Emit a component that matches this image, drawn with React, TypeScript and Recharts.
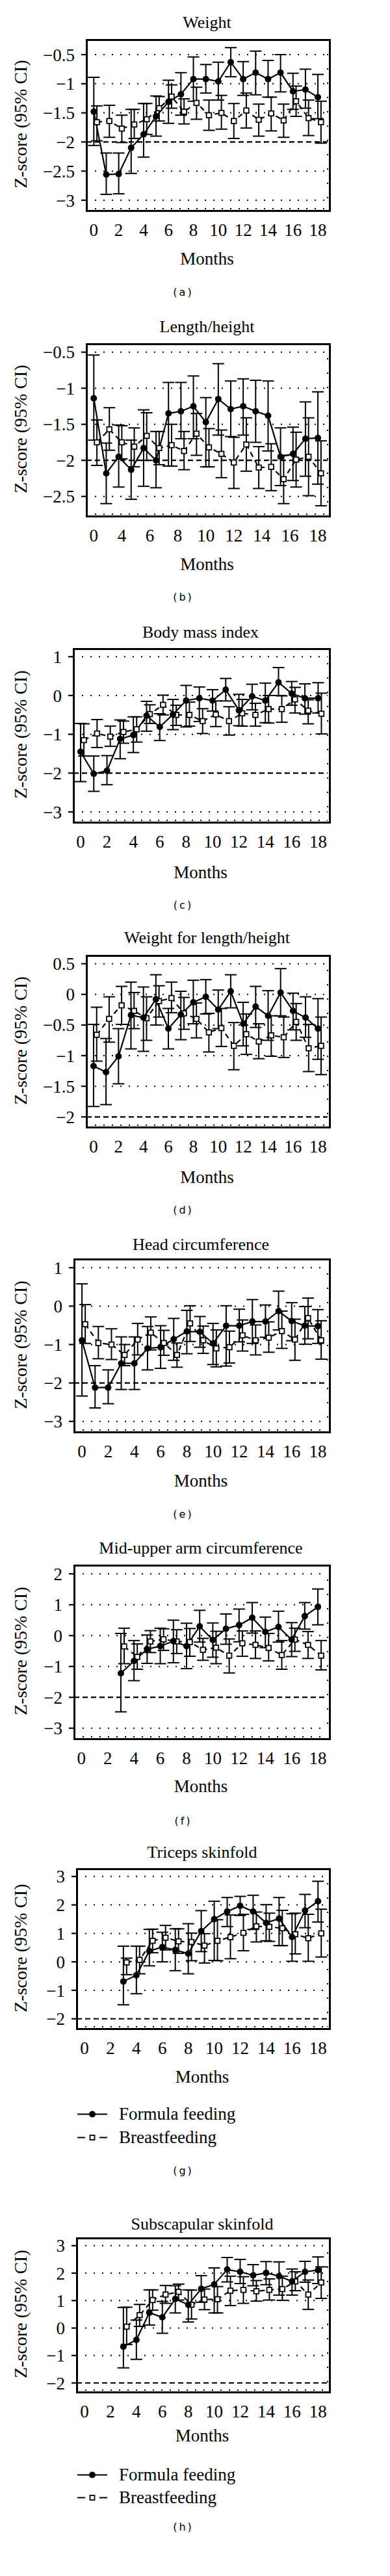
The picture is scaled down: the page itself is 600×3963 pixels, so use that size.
import React from "react"
import { LineChart, Line, XAxis, YAxis, CartesianGrid, ReferenceLine, ErrorBar } from "recharts"

const SERIF = '"Liberation Serif", "Times New Roman", serif'
const SANS = '"DejaVu Sans", "Liberation Sans", sans-serif'
const PLOT_RIGHT = 504
const BF_SHIFT = 0.25

// x values
const months = [0, 1, 2, 3, 4, 5, 6, 7, 8, 9, 10, 11, 12, 13, 14, 15, 16, 17, 18]
const monthsFrom3 = [3, 4, 5, 6, 7, 8, 9, 10, 11, 12, 13, 14, 15, 16, 17, 18]
const monthTicks = [0, 2, 4, 6, 8, 10, 12, 14, 16, 18]
const monthTickLabels = ["0", "2", "4", "6", "8", "10", "12", "14", "16", "18"]
// panel (b) prints nine labels spread evenly over the axis
const lengthLabelPositions = [0, 2.25, 4.5, 6.75, 9, 11.25, 13.5, 15.75, 18]
const lengthTickLabels = ["0", "4", "6", "8", "10", "12", "14", "16", "18"]

// (a) Weight
const weightFormula = [-1.48, -2.56, -2.55, -2.1, -1.87, -1.56, -1.31, -1.18, -0.92, -0.92, -0.96, -0.63, -0.92, -0.81, -0.92, -0.81, -1.13, -1.1, -1.23]
const weightFormulaLow = [-2.06, -2.9, -2.89, -2.54, -2.26, -1.9, -1.68, -1.54, -1.3, -1.16, -1.28, -0.88, -1.2, -1.19, -1.23, -1.14, -1.44, -1.42, -1.6]
const weightFormulaHigh = [-0.89, -2.19, -2.19, -1.44, -1.34, -1.21, -0.94, -0.81, -0.54, -0.67, -0.63, -0.38, -0.62, -0.44, -0.6, -0.5, -0.82, -0.75, -0.84]
const weightBreast = [-1.66, -1.64, -1.77, -1.7, -1.61, -1.42, -1.22, -1.48, -1.33, -1.54, -1.5, -1.64, -1.46, -1.62, -1.51, -1.63, -1.3, -1.59, -1.66]
const weightBreastLow = [-1.98, -1.92, -2.01, -1.94, -1.87, -1.64, -1.42, -1.69, -1.61, -1.8, -1.78, -1.94, -1.76, -1.9, -1.81, -1.92, -1.56, -1.89, -2.02]
const weightBreastHigh = [-1.38, -1.37, -1.54, -1.44, -1.34, -1.22, -1.02, -1.26, -1.06, -1.28, -1.2, -1.34, -1.16, -1.35, -1.23, -1.35, -1.04, -1.28, -1.3]

// (b) Length/height
const lengthFormula = [-1.14, -2.18, -1.95, -2.13, -1.83, -2.0, -1.35, -1.32, -1.25, -1.47, -1.15, -1.29, -1.25, -1.32, -1.38, -1.95, -1.91, -1.7, -1.69]
const lengthFormulaLow = [-1.72, -2.6, -2.37, -2.54, -2.36, -2.38, -2.08, -1.7, -1.7, -2.09, -1.65, -1.67, -1.65, -1.75, -1.87, -2.35, -2.28, -2.22, -2.33]
const lengthFormulaHigh = [-0.54, -1.76, -1.51, -1.72, -1.3, -1.6, -0.92, -0.92, -0.83, -1.13, -0.66, -0.9, -0.87, -0.89, -0.9, -1.55, -1.54, -1.19, -1.05]
const lengthBreast = [-1.75, -1.57, -1.75, -1.81, -1.66, -1.83, -1.79, -1.87, -1.63, -1.82, -1.91, -2.03, -1.78, -2.1, -2.09, -2.26, -1.99, -1.95, -2.18]
const lengthBreastLow = [-2.07, -1.86, -1.98, -2.09, -2.0, -2.06, -2.08, -2.13, -1.93, -2.09, -2.24, -2.39, -2.15, -2.39, -2.42, -2.6, -2.37, -2.49, -2.63]
const lengthBreastHigh = [-1.44, -1.27, -1.52, -1.55, -1.34, -1.6, -1.5, -1.6, -1.35, -1.56, -1.58, -1.68, -1.41, -1.81, -1.77, -1.93, -1.61, -1.41, -1.73]

// (c) Body mass index
const bmiFormula = [-1.45, -2.02, -1.94, -1.12, -1.02, -0.52, -0.81, -0.49, -0.13, -0.07, -0.13, 0.15, -0.38, -0.02, -0.13, 0.34, 0.05, -0.07, -0.07]
const bmiFormulaLow = [-2.22, -2.47, -2.3, -1.63, -1.47, -0.92, -1.16, -0.88, -0.81, -0.67, -0.4, -0.14, -0.78, -0.37, -0.7, 0.0, -0.25, -0.48, -0.45]
const bmiFormulaHigh = [-0.72, -1.56, -1.55, -0.63, -0.55, -0.15, -0.47, -0.1, 0.26, 0.22, 0.15, 0.44, 0.03, 0.29, 0.32, 0.72, 0.36, 0.3, 0.33]
const bmiBreast = [-1.15, -0.98, -1.06, -0.94, -0.87, -0.48, -0.24, -0.5, -0.5, -0.66, -0.49, -0.66, -0.46, -0.5, -0.35, -0.35, -0.1, -0.39, -0.47]
const bmiBreastLow = [-1.56, -1.34, -1.31, -1.23, -1.2, -0.72, -0.5, -0.77, -0.79, -0.98, -0.8, -1.02, -0.79, -0.79, -0.71, -0.69, -0.45, -0.73, -0.99]
const bmiBreastHigh = [-0.73, -0.62, -0.79, -0.66, -0.55, -0.24, 0.01, -0.25, -0.17, -0.34, -0.14, -0.29, -0.1, -0.2, 0.0, -0.01, 0.21, -0.11, 0.06]

// (d) Weight for length/height
const wflFormula = [-1.17, -1.27, -1.01, -0.34, -0.38, -0.08, -0.56, -0.33, -0.13, -0.04, -0.25, 0.05, -0.48, -0.2, -0.35, 0.03, -0.27, -0.38, -0.56]
const wflFormulaLow = [-1.83, -1.8, -1.46, -0.89, -0.93, -0.5, -0.89, -0.74, -0.48, -0.32, -0.56, -0.22, -0.84, -0.54, -0.75, -0.35, -0.58, -0.7, -1.06]
const wflFormulaHigh = [-0.49, -0.72, -0.56, 0.2, 0.12, 0.32, -0.23, 0.05, 0.23, 0.24, 0.07, 0.32, -0.13, 0.13, 0.06, 0.42, 0.02, -0.04, -0.07]
const wflBreast = [-0.66, -0.4, -0.18, -0.27, -0.39, -0.11, -0.06, -0.31, -0.4, -0.62, -0.55, -0.84, -0.65, -0.77, -0.67, -0.7, -0.45, -0.88, -0.84]
const wflBreastLow = [-1.09, -0.78, -0.49, -0.56, -0.75, -0.37, -0.3, -0.57, -0.71, -0.94, -0.85, -1.23, -0.98, -1.05, -1.01, -1.03, -0.75, -1.26, -1.31]
const wflBreastHigh = [-0.21, -0.04, 0.13, 0.03, -0.04, 0.14, 0.2, -0.05, -0.14, -0.31, -0.23, -0.46, -0.32, -0.48, -0.35, -0.37, -0.15, -0.49, -0.37]

// (e) Head circumference
const headFormula = [-0.89, -2.12, -2.12, -1.49, -1.49, -1.1, -1.07, -0.86, -0.66, -0.67, -0.97, -0.51, -0.51, -0.4, -0.4, -0.13, -0.39, -0.51, -0.52]
const headFormulaLow = [-2.34, -2.65, -2.54, -2.17, -2.17, -1.66, -1.62, -1.41, -1.24, -1.07, -1.52, -1.56, -0.93, -0.97, -0.81, -0.62, -0.9, -0.99, -0.97]
const headFormulaHigh = [0.58, -1.55, -1.66, -0.8, -0.8, -0.53, -0.51, -0.32, -0.11, -0.27, -0.45, 0.01, -0.08, 0.17, 0.03, 0.39, 0.09, -0.01, -0.09]
const headBreast = [-0.47, -0.96, -1.0, -1.27, -0.87, -0.69, -0.96, -1.27, -0.45, -0.89, -1.1, -1.07, -0.76, -0.89, -0.82, -0.65, -0.87, -0.31, -0.89]
const headBreastLow = [-0.97, -1.37, -1.39, -1.55, -1.27, -1.14, -1.28, -1.59, -0.92, -1.23, -1.58, -1.48, -1.17, -1.27, -1.2, -1.1, -1.41, -0.85, -1.38]
const headBreastHigh = [0.04, -0.53, -0.59, -1.0, -0.45, -0.28, -0.63, -0.96, 0.01, -0.52, -0.62, -0.65, -0.36, -0.49, -0.41, -0.13, -0.34, 0.21, -0.38]

// (f) Mid-upper arm circumference, months 3-18
const muacFormula = [-1.22, -0.82, -0.44, -0.34, -0.18, -0.34, 0.3, -0.14, 0.22, 0.34, 0.58, 0.12, 0.28, -0.13, 0.63, 0.93]
const muacFormulaLow = [-2.47, -1.46, -0.9, -0.91, -0.88, -1.07, -0.21, -0.7, -0.28, -0.2, 0.08, -0.39, -0.21, -0.68, 0.21, 0.35]
const muacFormulaHigh = [0.07, -0.16, 0.02, 0.24, 0.5, 0.4, 0.82, 0.41, 0.7, 0.86, 1.07, 0.6, 0.79, 0.42, 1.07, 1.51]
const muacBreast = [-0.35, -0.69, -0.19, -0.12, -0.19, -0.21, -0.46, -0.39, -0.65, -0.25, -0.3, -0.4, -0.63, -0.13, -0.3, -0.65]
const muacBreastLow = [-0.91, -1.09, -0.55, -0.48, -0.58, -0.67, -0.8, -0.91, -1.21, -0.67, -0.74, -0.82, -1.09, -0.51, -0.74, -1.11]
const muacBreastHigh = [0.24, -0.27, 0.16, 0.22, 0.19, 0.23, -0.09, 0.14, -0.11, 0.15, 0.15, 0.07, -0.16, 0.24, 0.13, -0.16]

// (g) Triceps skinfold, months 3-18
const tricepsFormula = [-0.69, -0.47, 0.38, 0.52, 0.42, 0.29, 1.08, 1.5, 1.77, 1.97, 1.77, 1.37, 1.52, 0.87, 1.8, 2.13]
const tricepsFormulaLow = [-1.51, -1.12, -0.14, 0.0, -0.31, -0.42, 0.36, 0.05, 1.24, 1.63, 1.14, 0.74, 0.57, 0.02, 1.2, 1.4]
const tricepsFormulaHigh = [0.55, 0.55, 1.14, 1.04, 1.16, 1.34, 1.8, 2.13, 2.26, 2.3, 2.34, 2.01, 2.26, 1.69, 2.37, 2.83]
const tricepsBreast = [-0.02, 0.07, 0.74, 0.85, 0.72, 0.7, 0.57, 0.74, 0.87, 1.02, 1.25, 1.23, 1.18, 0.97, 0.83, 1.0]
const tricepsBreastLow = [-0.45, -0.42, 0.32, 0.42, 0.3, 0.04, -0.04, 0.04, 0.11, 0.39, 0.7, 0.72, 0.57, 0.28, 0.02, 0.17]
const tricepsBreastHigh = [0.13, 0.55, 1.15, 1.28, 1.16, 1.01, 0.99, 1.48, 1.65, 1.67, 1.75, 1.71, 1.81, 1.71, 1.67, 1.85]

// (h) Subscapular skinfold, months 3-18
const subFormula = [-0.68, -0.43, 0.56, 0.39, 1.06, 0.85, 1.43, 1.59, 2.13, 2.05, 1.92, 2.01, 1.89, 1.7, 2.05, 2.11]
const subFormulaLow = [-1.45, -1.14, 0.11, -0.19, 0.55, 0.22, 0.94, 0.55, 1.68, 1.62, 1.54, 1.58, 1.2, 1.2, 1.67, 1.62]
const subFormulaHigh = [0.75, 0.29, 1.39, 0.97, 1.54, 1.39, 1.91, 2.19, 2.57, 2.5, 2.31, 2.42, 2.41, 2.15, 2.43, 2.59]
const subBreast = [0.05, 0.47, 1.02, 1.22, 1.32, 0.85, 1.04, 1.05, 1.36, 1.39, 1.34, 1.39, 1.42, 1.7, 1.22, 1.66]
const subBreastLow = [-0.6, 0.06, 0.65, 0.9, 1.02, 0.33, 0.67, 0.55, 0.82, 0.9, 0.98, 1.02, 1.01, 1.36, 0.68, 1.08]
const subBreastHigh = [0.76, 0.86, 1.39, 1.55, 1.6, 1.38, 1.42, 1.51, 1.89, 1.87, 1.73, 1.79, 1.89, 2.05, 1.75, 2.23]

type Row = { month: number; z: number; err: [number, number] }

function toRows(x: number[], mean: number[], low: number[], high: number[], shift: number): Row[] {
  return x.map((m, i) => ({ month: m + shift, z: mean[i], err: [mean[i] - low[i], high[i] - mean[i]] }))
}

const fmt = (v: number) => (v < 0 ? "\u2212" + String(Math.abs(v)) : String(v))

const circleDot = (p: any) => <circle key={`c${p.index}`} cx={p.cx} cy={p.cy} r={5} fill="#000" />
const squareDot = (p: any) => (
  <rect key={`s${p.index}`} x={p.cx - 3.8} y={p.cy - 3.8} width={7.6} height={7.6} fill="#fff" stroke="#000" strokeWidth={1.8} />
)

interface PanelProps {
  title: string
  tag: string
  top: number
  bottom: number
  left: number
  titleY: number
  monthsY: number
  tagY: number
  legendY?: [number, number]
  xDomain: [number, number]
  yDomain: [number, number]
  yTicks: number[]
  labelPositions: number[]
  labels: string[]
  x: number[]
  formula: number[]
  formulaLow: number[]
  formulaHigh: number[]
  breast: number[]
  breastLow: number[]
  breastHigh: number[]
}

const centered = (x: number, y: number, extra: React.CSSProperties): React.CSSProperties => ({
  position: "absolute",
  left: x,
  top: y,
  transform: "translate(-50%, -50%)",
  whiteSpace: "nowrap",
  lineHeight: 1,
  color: "#000",
  ...extra,
})

function Legend({ y }: { y: [number, number] }) {
  const row = (top: number): React.CSSProperties => ({
    position: "absolute",
    left: 117,
    top,
    transform: "translateY(-50%)",
    display: "flex",
    alignItems: "center",
    lineHeight: 1,
  })
  return (
    <>
      <div style={row(y[0])}>
        <svg width={50} height={16}>
          <line x1={2} x2={48} y1={8} y2={8} stroke="#000" strokeWidth={2.2} />
          <circle cx={25} cy={8} r={5} fill="#000" />
        </svg>
        <span style={{ marginLeft: 16, fontFamily: SERIF, fontSize: 27 }}>Formula feeding</span>
      </div>
      <div style={row(y[1])}>
        <svg width={50} height={16}>
          <line x1={2} x2={14} y1={8} y2={8} stroke="#000" strokeWidth={2.2} />
          <line x1={36} x2={48} y1={8} y2={8} stroke="#000" strokeWidth={2.2} />
          <rect x={21.5} y={4.5} width={7} height={7} fill="#fff" stroke="#000" strokeWidth={1.8} />
        </svg>
        <span style={{ marginLeft: 16, fontFamily: SERIF, fontSize: 27 }}>Breastfeeding</span>
      </div>
    </>
  )
}

function Panel(p: PanelProps) {
  const chartTop = p.top - 10
  const height = p.bottom - p.top + 10 + 70
  const boxCenter = (p.left + PLOT_RIGHT) / 2
  const formulaRows = toRows(p.x, p.formula, p.formulaLow, p.formulaHigh, 0)
  const breastRows = toRows(p.x, p.breast, p.breastLow, p.breastHigh, BF_SHIFT)

  return (
    <>
      <div style={centered(boxCenter, p.titleY, { fontFamily: SERIF, fontSize: 26 })}>{p.title}</div>
      <div style={centered(32, (p.top + p.bottom) / 2, { fontFamily: SERIF, fontSize: 28, transform: "translate(-50%, -50%) rotate(-90deg)" })}>
        Z-score (95% CI)
      </div>
      {/* plot frame, drawn under the chart */}
      <div
        style={{
          position: "absolute",
          left: p.left - 1.5,
          top: p.top - 1.5,
          width: PLOT_RIGHT - p.left,
          height: p.bottom - p.top,
          border: "3px solid #000",
          boxSizing: "content-box",
        }}
      />
      <div style={{ position: "absolute", left: 0, top: chartTop }}>
        <LineChart width={600} height={height} margin={{ top: 10, right: 600 - PLOT_RIGHT, left: 0, bottom: 0 }}>
          <CartesianGrid horizontal vertical={false} stroke="#000" strokeWidth={2} strokeDasharray="2 11" />
          <CartesianGrid horizontal={false} vertical stroke="#000" strokeWidth={2} strokeDasharray="2 20" />
          <XAxis
            type="number"
            dataKey="month"
            domain={p.xDomain}
            ticks={monthTicks}
            allowDataOverflow
            interval={0}
            height={1}
            axisLine={false}
            tick={false}
            tickSize={9}
            tickLine={{ stroke: "#000", strokeWidth: 2.2 }}
          />
          <XAxis
            xAxisId="labels"
            type="number"
            dataKey="month"
            domain={p.xDomain}
            ticks={p.labelPositions}
            tickFormatter={(v: number) => p.labels[p.labelPositions.indexOf(v)] ?? ""}
            allowDataOverflow
            interval={0}
            height={69}
            axisLine={false}
            tickLine={false}
            tickSize={8}
            tickMargin={14}
            tick={{ fontFamily: SERIF, fontSize: 27, fill: "#000" }}
          />
          <YAxis
            type="number"
            domain={p.yDomain}
            ticks={p.yTicks}
            allowDataOverflow
            interval={0}
            width={p.left}
            axisLine={false}
            tickSize={8}
            tickMargin={10}
            tickLine={{ stroke: "#000", strokeWidth: 2.2 }}
            tickFormatter={fmt}
            tick={{ fontFamily: SERIF, fontSize: 27, fill: "#000" }}
          />
          <ReferenceLine y={-2} stroke="#000" strokeWidth={2.2} strokeDasharray="8 5" />
          <Line
            data={breastRows}
            dataKey="z"
            type="linear"
            stroke="#000"
            strokeWidth={2.2}
            strokeDasharray="8 6"
            dot={squareDot}
            activeDot={false}
            isAnimationActive={false}
          >
            <ErrorBar dataKey="err" width={9} stroke="#000" strokeWidth={2} direction="y" isAnimationActive={false} />
          </Line>
          <Line
            data={formulaRows}
            dataKey="z"
            type="linear"
            stroke="#000"
            strokeWidth={2.2}
            dot={circleDot}
            activeDot={false}
            isAnimationActive={false}
          >
            <ErrorBar dataKey="err" width={9} stroke="#000" strokeWidth={2} direction="y" isAnimationActive={false} />
          </Line>
        </LineChart>
      </div>
      <div style={centered(boxCenter, p.monthsY, { fontFamily: SERIF, fontSize: 27 })}>Months</div>
      {p.legendY && <Legend y={p.legendY} />}
      <div style={centered(282, p.tagY, { fontFamily: SANS, fontSize: 16, letterSpacing: 3 })}>({p.tag})</div>
    </>
  )
}

export default function App() {
  return (
    <div style={{ position: "absolute", left: 0, top: 0, width: 600, height: 3963, background: "#fff", overflow: "hidden" }}>
      <Panel
        title="Weight" tag="a" top={61} bottom={321} left={133} titleY={35} monthsY={398} tagY={450}
        xDomain={[-0.59, 18.78]} yDomain={[-3.145, -0.243]} yTicks={[-3, -2.5, -2, -1.5, -1, -0.5]}
        labelPositions={monthTicks} labels={monthTickLabels} x={months}
        formula={weightFormula} formulaLow={weightFormulaLow} formulaHigh={weightFormulaHigh}
        breast={weightBreast} breastLow={weightBreastLow} breastHigh={weightBreastHigh}
      />
      <Panel
        title="Length/height" tag="b" top={529} bottom={791} left={133} titleY={503} monthsY={868} tagY={919}
        xDomain={[-0.59, 18.78]} yDomain={[-2.746, -0.385]} yTicks={[-2.5, -2, -1.5, -1, -0.5]}
        labelPositions={lengthLabelPositions} labels={lengthTickLabels} x={months}
        formula={lengthFormula} formulaLow={lengthFormulaLow} formulaHigh={lengthFormulaHigh}
        breast={lengthBreast} breastLow={lengthBreastLow} breastHigh={lengthBreastHigh}
      />
      <Panel
        title="Body mass index" tag="c" top={998} bottom={1262} left={113} titleY={973} monthsY={1342} tagY={1393}
        xDomain={[-0.54, 18.72]} yDomain={[-3.217, 1.206]} yTicks={[-3, -2, -1, 0, 1]}
        labelPositions={monthTicks} labels={monthTickLabels} x={months}
        formula={bmiFormula} formulaLow={bmiFormulaLow} formulaHigh={bmiFormulaHigh}
        breast={bmiBreast} breastLow={bmiBreastLow} breastHigh={bmiBreastHigh}
      />
      <Panel
        title="Weight for length/height" tag="d" top={1470} bottom={1731} left={133} titleY={1443} monthsY={1811} tagY={1862}
        xDomain={[-0.57, 18.77]} yDomain={[-2.135, 0.634]} yTicks={[-2, -1.5, -1, -0.5, 0, 0.5]}
        labelPositions={monthTicks} labels={monthTickLabels} x={months}
        formula={wflFormula} formulaLow={wflFormulaLow} formulaHigh={wflFormulaHigh}
        breast={wflBreast} breastLow={wflBreastLow} breastHigh={wflBreastHigh}
      />
      <Panel
        title="Head circumference" tag="e" top={1937} bottom={2200} left={114} titleY={1915} monthsY={2278} tagY={2330}
        xDomain={[-0.6, 18.74]} yDomain={[-3.225, 1.225]} yTicks={[-3, -2, -1, 0, 1]}
        labelPositions={monthTicks} labels={monthTickLabels} x={months}
        formula={headFormula} formulaLow={headFormulaLow} formulaHigh={headFormulaHigh}
        breast={headBreast} breastLow={headBreastLow} breastHigh={headBreastHigh}
      />
      <Panel
        title="Mid-upper arm circumference" tag="f" top={2408} bottom={2672} left={114} titleY={2382} monthsY={2748} tagY={2802}
        xDomain={[-0.56, 18.74]} yDomain={[-3.28, 2.28]} yTicks={[-3, -2, -1, 0, 1, 2]}
        labelPositions={monthTicks} labels={monthTickLabels} x={monthsFrom3}
        formula={muacFormula} formulaLow={muacFormulaLow} formulaHigh={muacFormulaHigh}
        breast={muacBreast} breastLow={muacBreastLow} breastHigh={muacBreastHigh}
      />
      <Panel
        title="Triceps skinfold" tag="g" top={2875} bottom={3118} left={118} titleY={2850} monthsY={3195} tagY={3340}
        legendY={[3252, 3288]}
        xDomain={[-0.6, 18.74]} yDomain={[-2.28, 3.27]} yTicks={[-2, -1, 0, 1, 2, 3]}
        labelPositions={monthTicks} labels={monthTickLabels} x={monthsFrom3}
        formula={tricepsFormula} formulaLow={tricepsFormulaLow} formulaHigh={tricepsFormulaHigh}
        breast={tricepsBreast} breastLow={tricepsBreastLow} breastHigh={tricepsBreastHigh}
      />
      <Panel
        title="Subscapular skinfold" tag="h" top={3443} bottom={3677} left={118} titleY={3422} monthsY={3747} tagY={3888}
        legendY={[3807, 3842]}
        xDomain={[-0.6, 18.74]} yDomain={[-2.26, 3.28]} yTicks={[-2, -1, 0, 1, 2, 3]}
        labelPositions={monthTicks} labels={monthTickLabels} x={monthsFrom3}
        formula={subFormula} formulaLow={subFormulaLow} formulaHigh={subFormulaHigh}
        breast={subBreast} breastLow={subBreastLow} breastHigh={subBreastHigh}
      />
    </div>
  )
}
